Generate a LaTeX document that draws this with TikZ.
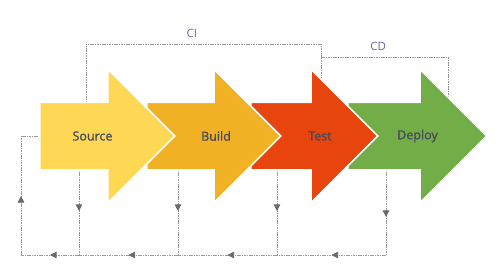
\documentclass[tikz,border=0pt]{standalone}
\usepackage{fontspec}
\usepackage{xcolor}
\usepackage{tikz}
\usetikzlibrary{arrows.meta,shapes.arrows,decorations.markings,backgrounds,calc}
\setmainfont{Open Sans}
\newfontfamily\stagefont[FakeBold=0.8]{Open Sans}
\definecolor{sourceYellow}{HTML}{FED855}
\definecolor{buildAmber}{HTML}{F1B124}
\definecolor{testRed}{HTML}{E8440E}
\definecolor{deployGreen}{HTML}{72AD47}
\definecolor{stageText}{HTML}{454A5E}
\definecolor{loopGray}{HTML}{9A9A9A}
\definecolor{tipGray}{HTML}{6A6A6A}
\definecolor{labelPurple}{HTML}{6A6A94}

\begin{document}
\begin{tikzpicture}[x=1pt, y=-1pt,
  stagebox/.style={single arrow, single arrow head extend=33pt, single arrow tip angle=90, draw=white, line width=1.5pt, inner xsep=0pt, inner ysep=27pt, text height=9pt, text depth=3pt, anchor=tail},
  stagetext/.style={text=stageText, font=\stagefont\fontsize{12.5}{14}\selectfont, inner sep=0pt},
  loopline/.style={draw=loopGray, line width=0.6pt, dash pattern=on 1.6pt off 0.8pt},
  midarrow/.style={postaction={decorate}, decoration={markings, mark=at position #1 with {\arrow[tipGray]{Triangle[length=6.5pt, width=6.5pt]}}}},
  looplabel/.style={text=labelPurple, font=\fontsize{11.5}{13}\selectfont, inner sep=0pt}
]
\useasboundingbox (0,0) rectangle (500,276);
% stages, last one first so each arrow lies over the next
\node[stagebox, fill=deployGreen, minimum height=139pt] (deploy) at (347,136) {};
\node[stagebox, fill=testRed, minimum height=127pt] (test) at (250,136) {};
\node[stagebox, fill=buildAmber, minimum height=134pt] (build) at (146,136) {};
\node[stagebox, fill=sourceYellow, minimum height=135pt] (source) at (39,136) {};
\node[stagetext] (sourceText) at ($(source.tail)+(53.5,0)$) {Source};
\node[stagetext] (buildText) at ($(build.tail)+(70,0)$) {Build};
\node[stagetext] (testText) at ($(test.tail)+(70,0)$) {Test};
\node[stagetext] (deployText) at ($(deploy.tail)+(70.5,0)$) {Deploy};
% corners of the dashed loops
\coordinate (ciL) at (86,44);
\coordinate (ciR) at (321,44);
\coordinate (cdL) at (321,57);
\coordinate (cdR) at (448,57);
\coordinate (backL) at (21,255);
\coordinate (dropS) at (79,255);
\coordinate (dropB) at (178,255);
\coordinate (dropT) at (277,255);
\coordinate (dropD) at (386,255);
\begin{scope}[on background layer]
\draw[loopline] (ciL |- source.tail) -- (ciL) -- node[looplabel, pos=0.45, above=6pt] {CI} (ciR) -- (ciR |- test.tail);
\draw[loopline] (cdL) -- node[looplabel, pos=0.45, above=6pt] {CD} (cdR) -- (cdR |- deploy.tail);
% feedback back to source
\draw[loopline, midarrow=0.63] (dropS |- source.tail) -- (dropS);
\draw[loopline, midarrow=0.63] (dropB |- build.tail) -- (dropB);
\draw[loopline, midarrow=0.63] (dropT |- test.tail) -- (dropT);
\draw[loopline, midarrow=0.68] (dropD |- deploy.tail) -- (dropD);
\draw[loopline, midarrow=0.5] (dropD) -- (dropT);
\draw[loopline, midarrow=0.5] (dropT) -- (dropB);
\draw[loopline, midarrow=0.5] (dropB) -- (dropS);
\draw[loopline, midarrow=0.5] (dropS) -- (backL);
\draw[loopline, midarrow=0.43] (backL) -- (backL |- source.tail) -- (source.tail);
\end{scope}
\end{tikzpicture}
\end{document}
